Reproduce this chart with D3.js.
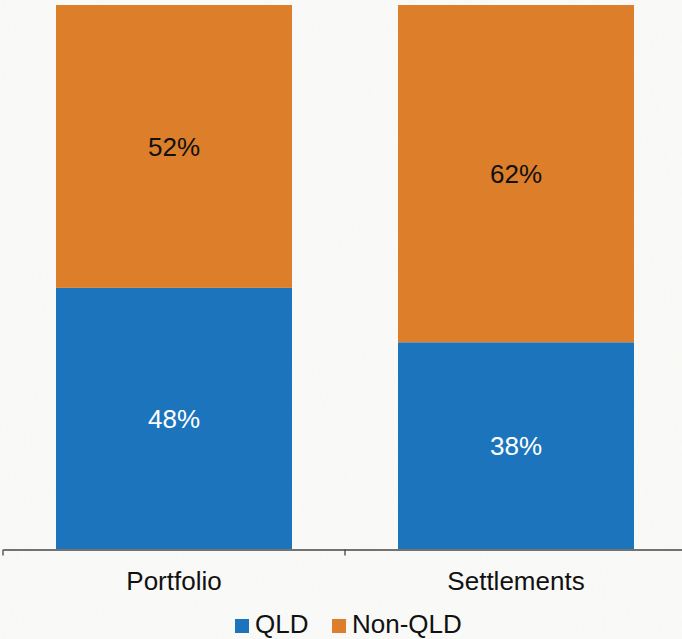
<!DOCTYPE html>
<html>
<head>
<meta charset="utf-8">
<title>QLD vs Non-QLD</title>
<script src="https://cdn.jsdelivr.net/npm/d3@7"></script>
<style>
body { margin: 0; background: #f9f9f7; }
svg { display: block; font-family: "Liberation Sans", Arial, sans-serif; }
</style>
</head>
<body>
<svg class="chart"></svg>
<script>

// data
var categories = ["Portfolio", "Settlements"];
var seriesNames = ["QLD", "Non-QLD"];
var qld = [48, 38];
var nonQld = [52, 62];
var colors = ["rgb(28,117,188)", "rgb(220,126,42)"];

var width = 682, height = 639;
var margin = {top: 5, left: 3, bottom: 90};
var plotH = height - margin.top - margin.bottom;   // 544

var svg = d3.select(".chart")
	.attr("width", width)
	.attr("height", height);

// paper-ish background texture
var defs = svg.append("defs");
var f = defs.append("filter").attr("id", "paper").attr("x", 0).attr("y", 0).attr("width", "100%").attr("height", "100%");
f.append("feTurbulence").attr("type", "fractalNoise").attr("baseFrequency", "0.9 0.06").attr("numOctaves", 2).attr("seed", 3);
f.append("feColorMatrix").attr("values", "0 0 0 0 0.85  0 0 0 0 0.85  0 0 0 0 0.83  0 0 0 0.07 0");
svg.append("rect").attr("width", width).attr("height", height).attr("fill", "#f9f9f7");
svg.append("rect").attr("width", width).attr("height", height).attr("filter", "url(#paper)");

var x = d3.scaleBand()
	.domain(categories)
	.range([margin.left, margin.left + 684])
	.paddingInner(0)
	.paddingOuter(0);

var y = d3.scaleLinear()
	.domain([0, 100])
	.range([margin.top + plotH, margin.top]);

var barW = 236;

var stacked = d3.stack().keys(seriesNames)(categories.map(function(c, i){
	return {cat: c, "QLD": qld[i], "Non-QLD": nonQld[i]};
}));

var g = svg.append("g");

stacked.forEach(function(layer, li){
	var grp = g.append("g").attr("fill", colors[li]);
	grp.selectAll("rect")
		.data(layer)
		.enter()
		.append("rect")
		.attr("x", function(d){ return x(d.data.cat) + (x.bandwidth() - barW) / 2; })
		.attr("y", function(d){ return y(d[1]); })
		.attr("width", barW)
		.attr("height", function(d){ return y(d[0]) - y(d[1]); });

	g.append("g").selectAll("text")
		.data(layer)
		.enter()
		.append("text")
		.attr("x", function(d){ return x(d.data.cat) + x.bandwidth() / 2; })
		.attr("y", function(d){ return (y(d[0]) + y(d[1])) / 2; })
		.attr("dy", "0.35em")
		.attr("text-anchor", "middle")
		.attr("font-size", 26)
		.attr("fill", li === 0 ? "#ffffff" : "#111111")
		.text(function(d){ return (d[1] - d[0]) + "%"; });
});

// x axis
var xAxis = d3.axisBottom(x).tickSize(0).tickPadding(22);
var ax = svg.append("g")
	.attr("transform", "translate(0," + (margin.top + plotH + 0.5) + ")")
	.call(xAxis);
ax.select(".domain").attr("stroke", "#444").attr("stroke-width", 1.3);
ax.selectAll("text").attr("font-size", 26).attr("fill", "#111").attr("font-family", "Liberation Sans, Arial, sans-serif");

// band boundary ticks
ax.selectAll(".bound")
	.data(categories.concat(["end"]))
	.enter()
	.append("line")
	.attr("x1", function(d, i){ return margin.left + i * x.bandwidth(); })
	.attr("x2", function(d, i){ return margin.left + i * x.bandwidth(); })
	.attr("y1", 0)
	.attr("y2", 6)
	.attr("stroke", "#444")
	.attr("stroke-width", 1.3);

// legend
var legendX = [235, 332];
var lg = svg.append("g").attr("transform", "translate(0,633)");
seriesNames.forEach(function(name, i){
	lg.append("rect")
		.attr("x", legendX[i])
		.attr("y", -14)
		.attr("width", 14)
		.attr("height", 14)
		.attr("fill", colors[i]);
	lg.append("text")
		.attr("x", legendX[i] + 20)
		.attr("y", 0)
		.attr("font-size", 26)
		.attr("fill", "#111")
		.text(name);
});

</script>
</body>
</html>
